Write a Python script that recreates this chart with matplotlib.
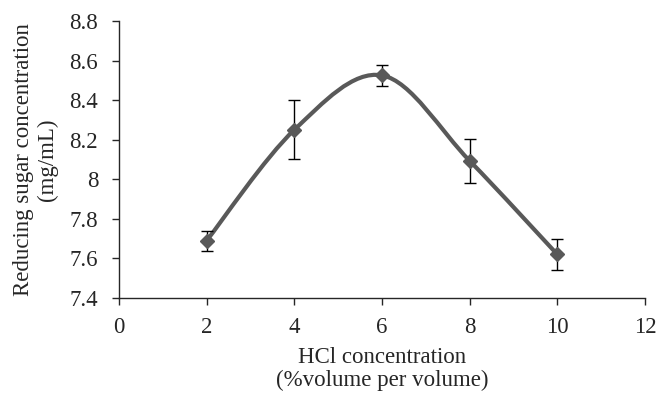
import matplotlib
matplotlib.use("Agg")
import matplotlib.pyplot as plt
from matplotlib.path import Path
from matplotlib.patches import PathPatch
from matplotlib.ticker import FuncFormatter

# data
hcl = [2, 4, 6, 8, 10]
sugar = [7.69, 8.25, 8.525, 8.093, 7.62]
err = [0.05, 0.15, 0.053, 0.112, 0.08]

xticks = [0, 2, 4, 6, 8, 10, 12]
yticks = [7.4, 7.6, 7.8, 8.0, 8.2, 8.4, 8.6, 8.8]

plt.rcParams['font.family'] = ['Liberation Serif', 'DejaVu Serif']

fig = plt.figure(figsize=(6.59, 3.93), dpi=100)
ax = fig.add_axes([0.1806, 0.2417, 0.7982, 0.705])

# smoothed line like Excel (bezier through the points, catmull-rom tangents)
verts = [(hcl[0], sugar[0])]
codes = [Path.MOVETO]
n = len(hcl)
for i in range(n - 1):
    p0 = (hcl[max(i - 1, 0)], sugar[max(i - 1, 0)])
    p1 = (hcl[i], sugar[i])
    p2 = (hcl[i + 1], sugar[i + 1])
    p3 = (hcl[min(i + 2, n - 1)], sugar[min(i + 2, n - 1)])
    c1 = (p1[0] + (p2[0] - p0[0]) / 6, p1[1] + (p2[1] - p0[1]) / 6)
    c2 = (p2[0] - (p3[0] - p1[0]) / 6, p2[1] - (p3[1] - p1[1]) / 6)
    verts += [c1, c2, p2]
    codes += [Path.CURVE4] * 3
ax.add_patch(PathPatch(Path(verts, codes), facecolor='none', edgecolor='#595959',
                       lw=3, capstyle='round', zorder=2))

ax.errorbar(hcl, sugar, yerr=err, fmt='none', ecolor='black', elinewidth=1,
            capsize=4, capthick=1, zorder=3)
ax.plot(hcl, sugar, 'D', color='#595959', ms=7.5, zorder=4)

ax.set_xlim(0, 12)
ax.set_ylim(7.4, 8.8)
ax.set_xticks(xticks)
ax.set_yticks(yticks)
ax.yaxis.set_major_formatter(FuncFormatter(lambda v, p: '%g' % round(v, 1)))

for s in ['top', 'right']:
    ax.spines[s].set_visible(False)
for s in ['left', 'bottom']:
    ax.spines[s].set_color('#262626')
    ax.spines[s].set_linewidth(1)
ax.tick_params(direction='out', length=5, width=1, color='#262626',
               labelsize=16.5, labelcolor='#262626')
ax.tick_params(axis='x', pad=9)
ax.tick_params(axis='y', pad=10)

ax.set_xlabel('HCl concentration\n(%volume per volume)', fontsize=16.5,
              color='#262626', linespacing=1.15, labelpad=6)
ax.set_ylabel('Reducing sugar concentration\n(mg/mL)', fontsize=16.5,
              color='#262626', linespacing=1.2, labelpad=8)

fig.savefig('out.png', dpi=100)
